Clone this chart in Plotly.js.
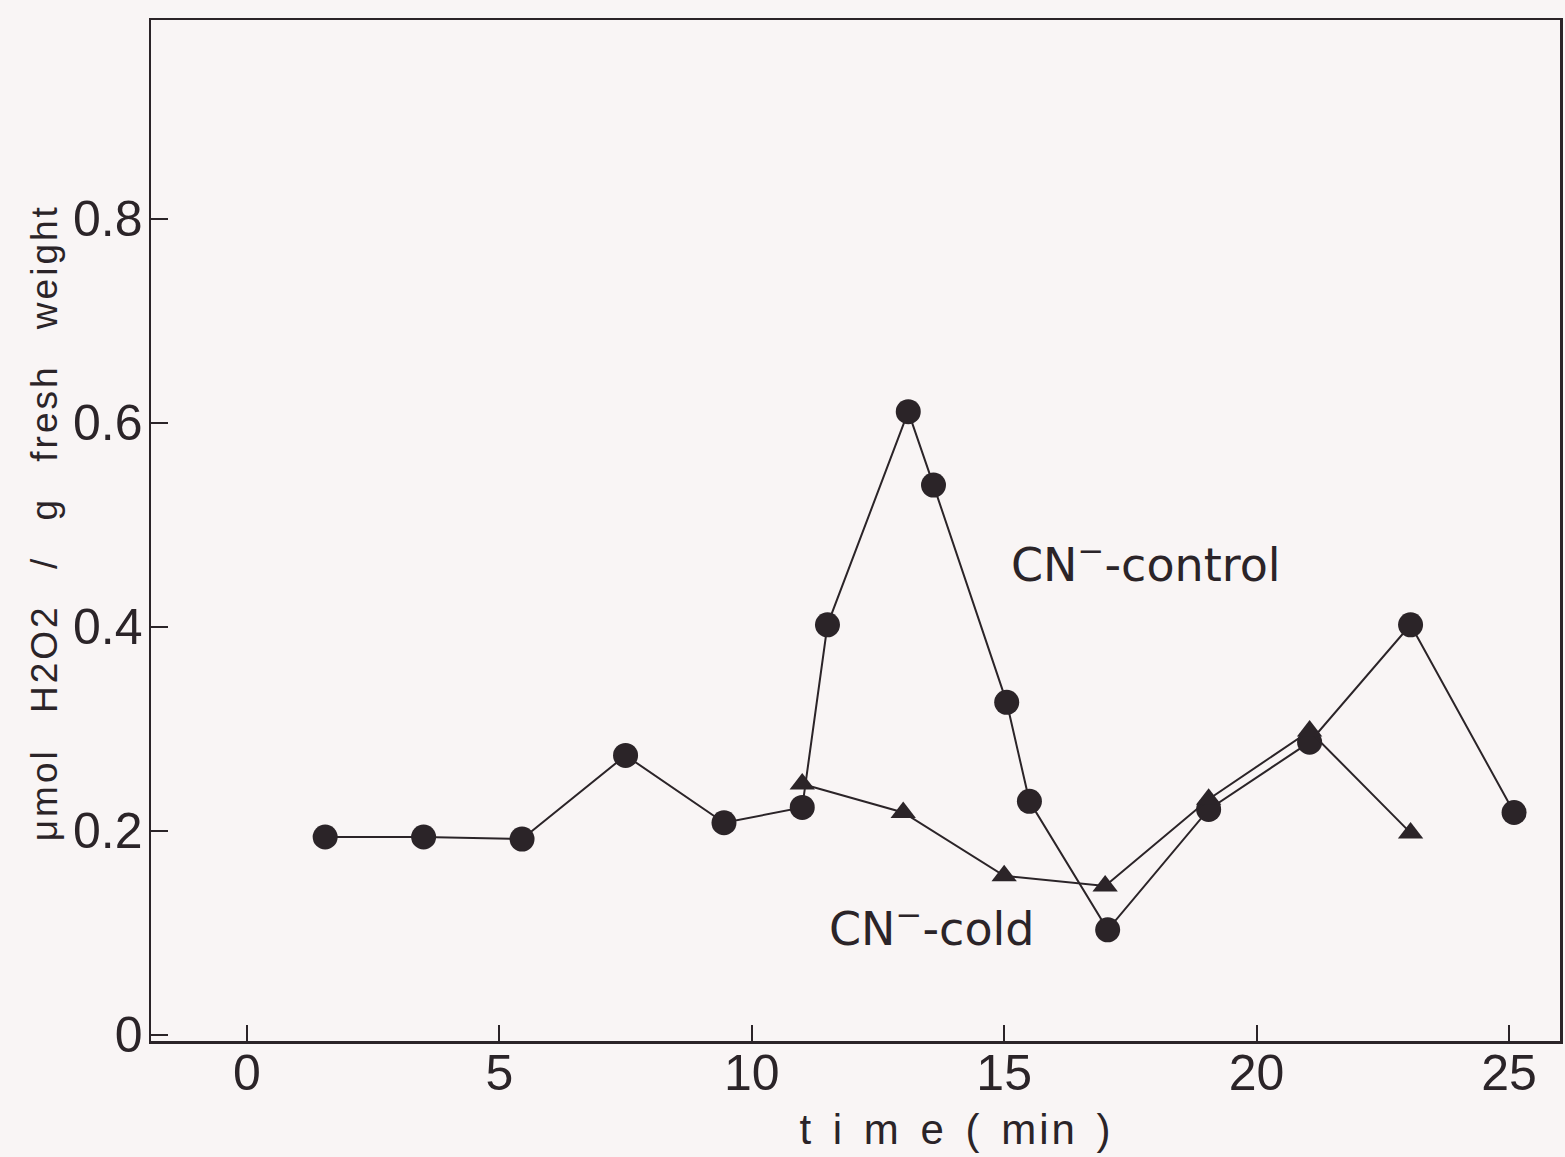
<!DOCTYPE html>
<html>
<head>
<meta charset="utf-8">
<script src="https://cdn.plot.ly/plotly-3.0.1.min.js"></script>
<style>
  html, body { margin: 0; padding: 0; background: #f9f5f5; }
  #chart { width: 1565px; height: 1157px; }
  g.annotation[data-index="2"] text { letter-spacing: 3px; word-spacing: 22px; }
  g.annotation[data-index="3"] text { letter-spacing: 3px; word-spacing: 4px; }
</style>
</head>
<body>
<div id="chart"></div>
<script>
// CN- control (circles)
const controlTime = [1.55, 3.5, 5.45, 7.5, 9.45, 11.0, 11.5, 13.1, 13.6, 15.05, 15.5, 17.05, 19.05, 21.05, 23.05, 25.1];
const controlH2O2 = [0.194, 0.194, 0.192, 0.274, 0.208, 0.223, 0.402, 0.611, 0.539, 0.326, 0.229, 0.103, 0.221, 0.287, 0.402, 0.218];
// CN- cold (triangles)
const coldTime = [11.0, 13.0, 15.0, 17.0, 19.05, 21.05, 23.05];
const coldH2O2 = [0.246, 0.218, 0.156, 0.146, 0.231, 0.298, 0.198];

const xTicks = [0, 5, 10, 15, 20, 25];
const yTicks = [0, 0.2, 0.4, 0.6, 0.8];
const yTickLabels = ['0', '0.2', '0.4', '0.6', '0.8'];

const ink = '#2b2428';

const traces = [
  {
    x: controlTime, y: controlH2O2, type: 'scatter', mode: 'lines+markers',
    name: 'CN- control',
    line: { color: ink, width: 2 },
    marker: { symbol: 'circle', size: 25, color: ink, line: { width: 0 } }
  },
  {
    x: coldTime, y: coldH2O2, type: 'scatter', mode: 'lines+markers',
    name: 'CN- cold',
    line: { color: ink, width: 2 },
    marker: { symbol: 'triangle-up', size: 22, color: ink, line: { width: 0 } }
  }
];

const layout = {
  width: 1565, height: 1157,
  paper_bgcolor: '#f9f5f5', plot_bgcolor: '#f9f5f5',
  showlegend: false,
  margin: { l: 151, r: 5, t: 20, b: 116 },
  font: { family: 'Liberation Sans, Arial, sans-serif', color: ink },
  xaxis: {
    range: [-1.9, 26.01],
    tickvals: xTicks, ticktext: xTicks.map(String),
    ticks: 'inside', ticklen: 16, tickwidth: 2, tickcolor: ink,
    showline: true, linecolor: ink, linewidth: 2.5, mirror: true,
    showgrid: false, zeroline: false,
    ticklabelstandoff: -14,
    tickfont: { size: 50, color: ink }
  },
  yaxis: {
    range: [-0.006, 0.995],
    tickvals: yTicks, ticktext: yTickLabels,
    ticks: 'inside', ticklen: 17, tickwidth: 2, tickcolor: ink,
    showline: true, linecolor: ink, linewidth: 2.5, mirror: true,
    showgrid: false, zeroline: false,
    ticklabelstandoff: -4,
    tickfont: { size: 50, color: ink }
  },
  annotations: [
    { xref: 'x', yref: 'y', x: 15.1, y: 0.464, xanchor: 'left', yanchor: 'middle',
      text: 'CN<sup>−</sup>-control', showarrow: false,
      font: { family: 'DejaVu Sans, sans-serif', size: 46, color: ink } },
    { xref: 'x', yref: 'y', x: 11.5, y: 0.107, xanchor: 'left', yanchor: 'middle',
      text: 'CN<sup>−</sup>-cold', showarrow: false,
      font: { family: 'DejaVu Sans, sans-serif', size: 46, color: ink } },
    { xref: 'paper', yref: 'paper', x: -0.076, y: 0.508, xanchor: 'center', yanchor: 'middle',
      textangle: -90, text: 'μmol H2O2 / g fresh weight', showarrow: false,
      font: { family: 'Liberation Sans, Arial, sans-serif', size: 37, color: ink } },
    { xref: 'paper', yref: 'paper', x: 0.572, y: -0.087, xanchor: 'center', yanchor: 'middle',
      text: 't i m e ( min )', showarrow: false,
      font: { family: 'Liberation Sans, Arial, sans-serif', size: 42, color: ink } }
  ]
};

Plotly.newPlot('chart', traces, layout, { displayModeBar: false, staticPlot: true });
</script>
</body>
</html>
